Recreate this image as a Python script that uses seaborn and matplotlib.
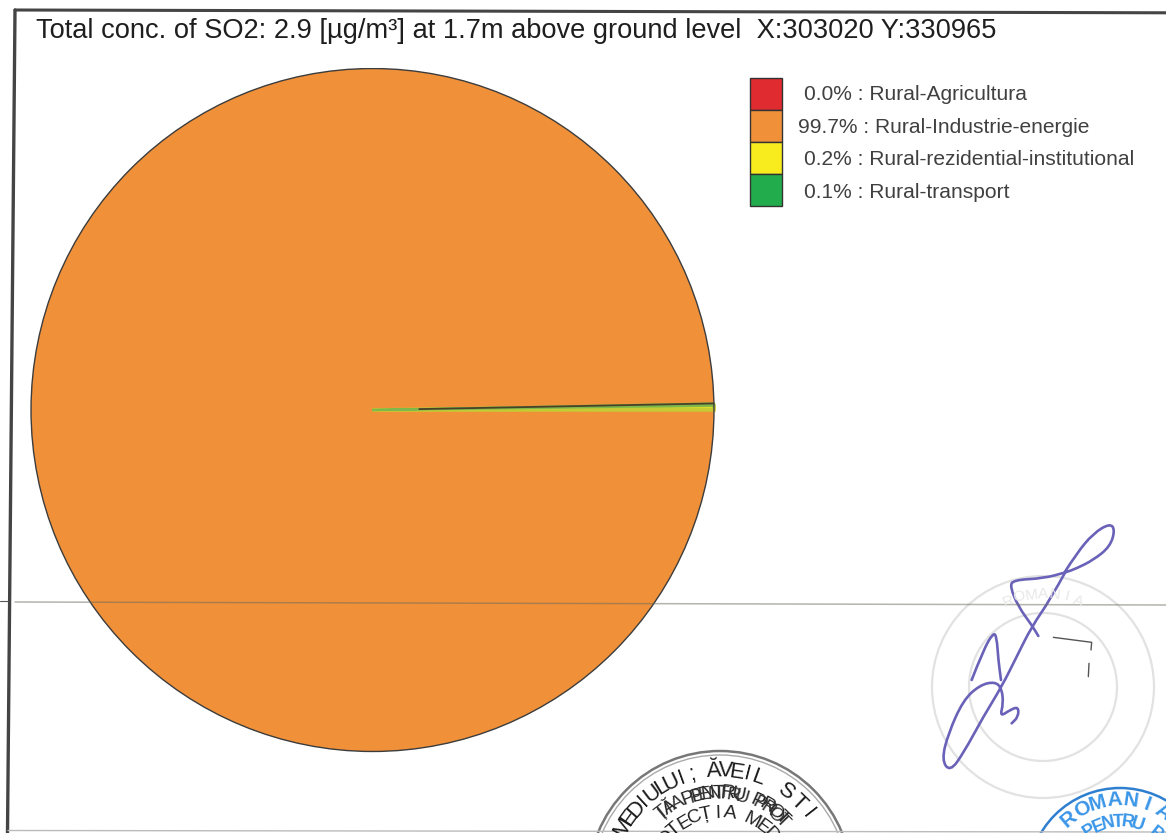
import numpy as np
import matplotlib
matplotlib.use("Agg")
import matplotlib.pyplot as plt
from matplotlib.patches import Rectangle, Circle, PathPatch
from matplotlib.path import Path
import seaborn as sns

sources = ["Rural-Agricultura", "Rural-Industrie-energie",
           "Rural-rezidential-institutional", "Rural-transport"]
shares = [0.0, 99.7, 0.2, 0.1]
share_labels = ["0.0%", "99.7%", "0.2%", "0.1%"]
title_text = "Total conc. of SO2: 2.9 [µg/m³] at 1.7m above ground level  X:303020 Y:330965"
colors = sns.color_palette(["#E02B30", "#F0913A", "#F8EC1E", "#22AC4B"])

W, H = 1166, 833
sns.set_theme(style="white")
plt.rcParams["font.family"] = ["Liberation Sans", "DejaVu Sans"]
fig = plt.figure(figsize=(W / 100, H / 100), dpi=100, facecolor="white")

# pie
cx, cy, r = 372.5, 410.0, 342.5
ax = fig.add_axes([(cx - r) / W, 1 - (cy + r) / H, 2 * r / W, 2 * r / H])
wedges, _ = ax.pie(shares, colors=colors, startangle=1.1, counterclock=True, radius=1.0,
                   wedgeprops=dict(linewidth=0))
wedges[2].set(edgecolor="#C4CB34", linewidth=2.6)
wedges[3].set(edgecolor="#7FB84A", linewidth=1.6)
ax.add_patch(Circle((0, 0), 1.0, fill=False, ec="#3c3c3c", lw=1.0))
a = np.deg2rad(1.1)
ax.plot([0.135 * np.cos(a), np.cos(a)], [0.135 * np.sin(a), np.sin(a)], color="#4a4228", lw=1.3,
        solid_capstyle="butt")
ax.set_xlim(-1.003, 1.003)
ax.set_ylim(-1.003, 1.003)
ax.set_aspect("equal")
ax.axis("off")

# page overlay in scan pixels
ov = fig.add_axes([0, 0, 1, 1], facecolor="none")
ov.set_xlim(0, W)
ov.set_ylim(H, 0)
ov.axis("off")

# frame and fold line of the scan
ov.plot([15, 7.5], [10, 833], color="#444444", lw=2.4)
ov.plot([15, W], [10, 12.8], color="#444444", lw=2.2)
ov.plot([8, W], [830.5, 832], color="#bbbbbb", lw=1.0)
ov.plot([15, W], [602, 605], color="#6a6a5a", lw=1.1, alpha=0.5)
ov.plot([0, 8], [601, 601], color="#555555", lw=0.8)

ov.text(36, 31, title_text, fontsize=19.6, color="#1e1e1e", va="center", ha="left")

# legend
x0, y0, h = 750, 78, 32
offs = [804, 798, 804, 804]
text_y = [94, 127, 159, 192]
for i, (src, lab, col) in enumerate(zip(sources, share_labels, colors)):
    ov.add_patch(Rectangle((x0, y0 + i * h), 32, h, fc=col, ec="#333333", lw=1.0))
    ov.text(offs[i], text_y[i], f"{lab} : {src}", fontsize=15.15, color="#404040",
            va="center", ha="left")


def arc_text(s, xc, yc, rad, a_start, a_end, **kw):
    for ch, ang in zip(s, np.linspace(a_start, a_end, len(s))):
        t = np.deg2rad(ang)
        ov.text(xc + rad * np.sin(t), yc - rad * np.cos(t), ch, rotation=-ang,
                ha="center", va="center", rotation_mode="anchor", clip_on=True, **kw)


# faint embossed stamp
for rad in (111, 74):
    ov.add_patch(Circle((1043, 687), rad, fill=False, ec="#e2e2e2", lw=1.6))
arc_text("ROMANIA", 1043, 687, 93, -22, 22, fontsize=11, color="#e8e8e8")

# black stamp
sx, sy = 720, 883
ov.add_patch(Circle((sx, sy), 132, fill=False, ec="#777777", lw=1.8))
ov.add_patch(Circle((sx, sy), 128, fill=False, ec="#aaaaaa", lw=1.0))
arc_text("MEDIULUI; ĂVEIL", sx, sy, 112, -60, 20, fontsize=16, color="#1c1c1c")
arc_text("STI", sx, sy, 112, 36, 52, fontsize=16, color="#1c1c1c")
arc_text("IĂ PENTRU PROT", sx, sy, 90, -40, 44, fontsize=14, color="#222222")
arc_text("ȚIA PENTRU PROT", sx - 3, sy + 1, 90, -38, 46, fontsize=14, color="#333333")
arc_text("OTECȚIA MEDI", sx, sy, 70, -50, 56, fontsize=14, color="#222222")

# blue stamp
bx, by = 1120, 880
ov.add_patch(Circle((bx, by), 92, fill=False, ec="#2f7fd0", lw=1.8))
arc_text("ROMANIA", bx, by, 80, -40, 32, fontsize=15, color="#3a96e8", fontweight="bold")
arc_text("PENTRU PR", bx, by, 58, -32, 48, fontsize=13, color="#3a96e8", fontweight="bold")

# signature, from crop pixels
sig1 = [(405,185),(440,130),(490,70),(540,40),(555,60),(540,110),(490,150),(440,175),(405,188),
        (340,205),(250,210),(240,230),(265,290),(305,345),(325,378)]
sig2 = [(405,188),(360,270),(305,350),(260,440),(215,530),(160,620),(100,730),(60,785),(35,750),
        (55,670),(100,570),(150,525),(195,515),(215,535),(220,580),(210,620),(240,600),(265,590),
        (265,620),(245,640)]
sig3 = [(125,510),(160,420),(190,368),(200,380),(205,450),(213,510)]
for pts in (sig1, sig2, sig3):
    p = np.array(pts, float) / 3 + [930, 510]
    mids = (p[:-1] + p[1:]) / 2
    verts = [p[0]]
    codes = [Path.MOVETO]
    for ctrl, end in zip(p[1:-1], mids[1:]):
        verts += [ctrl, end]
        codes += [Path.CURVE3, Path.CURVE3]
    verts.append(p[-1])
    codes.append(Path.LINETO)
    ov.add_patch(PathPatch(Path(verts, codes), fc="none", ec="#6a62b8", lw=1.9, capstyle="round"))
for pts in ([(370,382),(485,397),(483,420)], [(477,460),(475,500)]):
    p = np.array(pts, float) / 3 + [930, 510]
    ov.plot(p[:, 0], p[:, 1], color="#555555", lw=1.0)
ov.set_xlim(0, W)
ov.set_ylim(H, 0)

fig.savefig("out.png", dpi=100, facecolor="white")
